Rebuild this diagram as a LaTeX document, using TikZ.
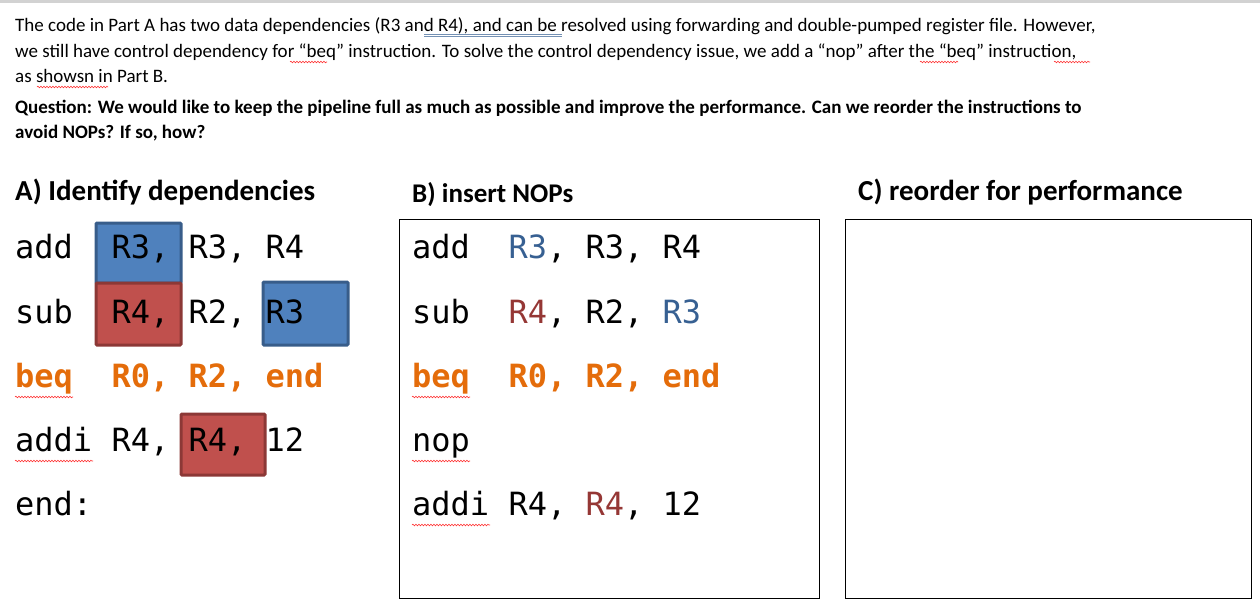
\documentclass[tikz,border=0pt]{standalone}
\usepackage{fontspec}
\setmainfont{Carlito}
\newfontfamily\codefont{DejaVu Sans Mono}
\usetikzlibrary{decorations.pathmorphing}
\definecolor{bfill}{HTML}{4F81BD}\definecolor{bline}{HTML}{385D8A}
\definecolor{rfill}{HTML}{C0504D}\definecolor{rline}{HTML}{8C3836}
\definecolor{org}{HTML}{E46C0A}\definecolor{tblue}{HTML}{376092}\definecolor{tred}{HTML}{953735}
\begin{document}
\begin{tikzpicture}[x=1pt,y=-1pt,
  para/.style={anchor=base west,inner sep=0pt,font=\fontsize{19}{22}\selectfont},
  head/.style={anchor=base west,inner sep=0pt,font=\fontsize{29}{32}\selectfont\bfseries},
  code/.style={anchor=base west,inner sep=0pt,font=\fontsize{32}{36}\codefont},
  bbox/.style={draw=bline,fill=bfill,line width=3pt,rounded corners=1pt},
  rbox/.style={draw=rline,fill=rfill,line width=3pt,rounded corners=1pt},
  panel/.style={draw=black,line width=0.8pt},
  squig/.style={draw=red!80,line width=0.6pt,decorate,decoration={snake,amplitude=0.8pt,segment length=3pt}}]
\useasboundingbox (0,0) rectangle (1260,614);
\fill[gray!35] (0,0) rectangle (1260,3);
\node[para] (p1) at (15,31) {The code in Part A has two data dependencies (R3 and R4), and can be resolved using forwarding and double-pumped register file. However,};
\node[para] (p2) at (15,57) {we still have control dependency for “beq” instruction. To solve the control dependency issue, we add a “nop” after the “beq” instruction,};
\node[para] (p3) at (15,82) {as showsn in Part B.};
\node[para,font=\fontsize{19}{22}\selectfont\bfseries] (q1) at (15,113) {Question: We would like to keep the pipeline full as much as possible and improve the performance. Can we reorder the instructions to};
\node[para,font=\fontsize{19}{22}\selectfont\bfseries] (q2) at (15,138) {avoid NOPs? If so, how?};
\draw[tblue!70,line width=0.6pt] (424,34) -- (562,34) (424,36.5) -- (562,36.5);
\draw[squig] (290,62) -- (327,62);
\draw[squig] (920,62) -- (958,62);
\draw[squig] (1054,62) -- (1090,62);
\draw[squig] (37,87) -- (108,87);
\node[head] (ha) at (15,200) {A) Identify dependencies};
\node[head,font=\fontsize{27}{30}\selectfont\bfseries] (hb) at (412,202) {B) insert NOPs};
\node[head] (hc) at (858,200) {C) reorder for performance};
\draw[bbox] (96,223) rectangle (181,283);
\draw[rbox] (96,283) rectangle (181,345);
\draw[bbox] (263,282) rectangle (348,345);
\draw[rbox] (181,414) rectangle (265,475);
\node[code] (a1) at (15,258) {add\ \ R3, R3, R4};
\node[code] (a2) at (15,323) {sub\ \ R4, R2, R3};
\node[code,text=org,font=\fontsize{32}{36}\codefont\bfseries] (a3) at (15,387) {beq\ \ R0, R2, end};
\node[code] (a4) at (15,451) {addi R4, R4, 12};
\node[code] (a5) at (15,515) {end:};
\draw[squig] (15,397) -- (73,397);
\draw[squig] (15,461) -- (93,461);
\draw[panel] (399,219) rectangle (819,598);
\draw[panel] (845,219) rectangle (1251,598);
\node[code] (b1) at (412,258) {add\ \ \textcolor{tblue}{R3}, R3, R4};
\node[code] (b2) at (412,323) {sub\ \ \textcolor{tred}{R4}, R2, \textcolor{tblue}{R3}};
\node[code,text=org,font=\fontsize{32}{36}\codefont\bfseries] (b3) at (412,387) {beq\ \ R0, R2, end};
\node[code] (b4) at (412,451) {nop};
\node[code] (b5) at (412,515) {addi R4, \textcolor{tred}{R4}, 12};
\draw[squig] (412,397) -- (470,397);
\draw[squig] (412,461) -- (470,461);
\draw[squig] (412,525) -- (490,525);
\end{tikzpicture}
\end{document}
